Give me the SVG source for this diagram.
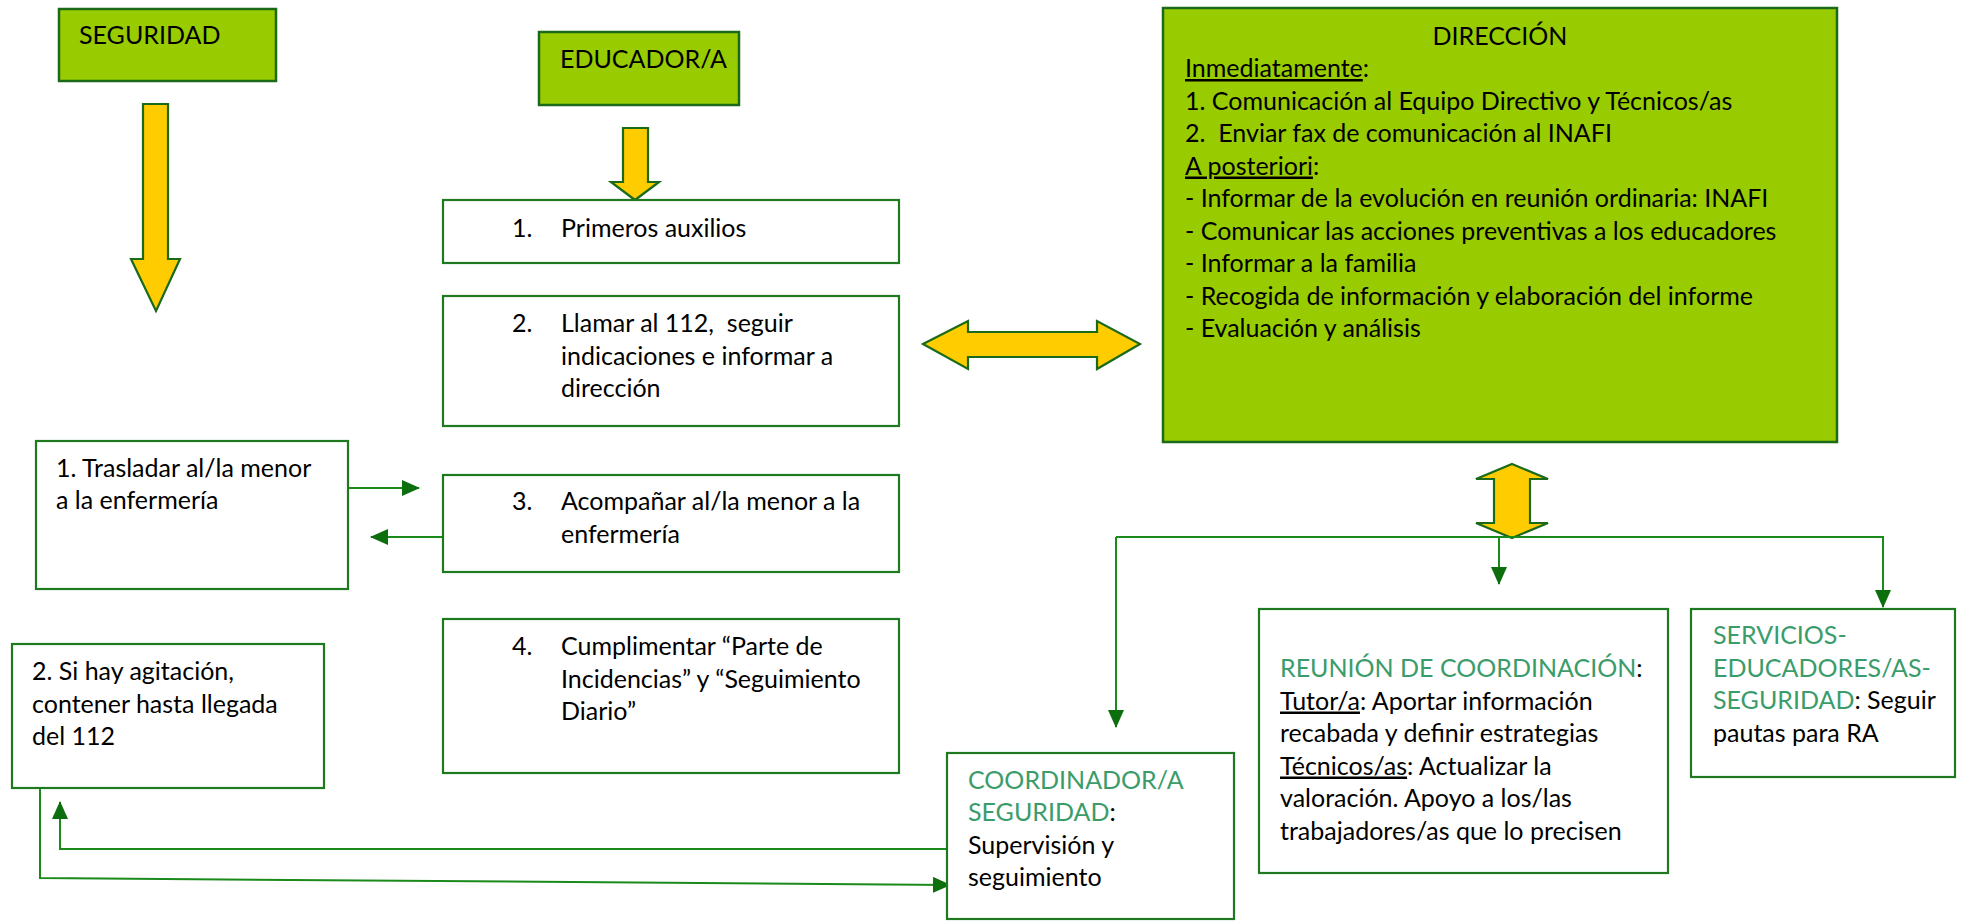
<svg xmlns="http://www.w3.org/2000/svg" width="1963" height="921" viewBox="0 0 1963 921">
<style>
  text { font-family: Lato, "Liberation Sans", sans-serif; font-size: 25px; fill: #000; white-space: pre; }
  .g { fill: #3b9c6b; }
  .u { text-decoration: underline; }
  .box { fill: #fff; stroke: #1f7a1f; stroke-width: 2.2; }
  .gbox { fill: #99cc00; stroke: #1a6a1a; stroke-width: 2.5; }
  .blk { fill: #ffcc00; stroke: #1a6a1a; stroke-width: 2.2; stroke-linejoin: miter; }
  .ln { fill: none; stroke: #1a8a1a; stroke-width: 2; }
</style>
<defs>
  <marker id="ah" markerUnits="userSpaceOnUse" markerWidth="18" markerHeight="16" refX="17" refY="8" orient="auto">
    <path d="M0,0 L18,8 L0,16 z" fill="#0d6e0d"/>
  </marker>
</defs>
<rect width="1963" height="921" fill="#fff"/>

<g id="connectors">
  <polygon class="blk" points="143,104 168,104 168,259 180,259 156,311 131,259 143,259"/>
  <polygon class="blk" points="623,128 648,128 648,182 659,182 635,200 611,182 623,182"/>
  <polygon class="blk" points="923,344 968,321 968,332 1097,332 1097,321 1140,344 1097,369 1097,357 968,357 968,369"/>
  <polygon class="blk" points="1512,464 1548,479 1530,479 1530,523 1548,523 1512,538 1476,523 1494,523 1494,479 1476,479"/>
  <path class="ln" d="M348,488 H419" marker-end="url(#ah)"/>
  <path class="ln" d="M443,537 H371" marker-end="url(#ah)"/>
  <path class="ln" d="M40,788 V878 L950,885" marker-end="url(#ah)"/>
  <path class="ln" d="M947,849 H60 V802" marker-end="url(#ah)"/>
  <path class="ln" d="M1116,537 H1883 V607" marker-end="url(#ah)"/>
  <path class="ln" d="M1116,537 V727" marker-end="url(#ah)"/>
  <path class="ln" d="M1499,537 V584" marker-end="url(#ah)"/>
</g>

<g id="seguridad">
  <rect class="gbox" x="59" y="9" width="217" height="72"/>
  <text x="79" y="44">SEGURIDAD</text>
</g>
<g id="educador">
  <rect class="gbox" x="539" y="32" width="200" height="73"/>
  <text x="560" y="68">EDUCADOR/A</text>
</g>
<g id="paso1">
  <rect class="box" x="443" y="200" width="456" height="63"/>
  <text x="512" y="237">1.</text>
  <text x="561" y="237">Primeros auxilios</text>
</g>
<g id="paso2">
  <rect class="box" x="443" y="296" width="456" height="130"/>
  <text x="512" y="332">2.</text>
  <text x="561" y="332">Llamar al 112,  seguir</text>
  <text x="561" y="364.5">indicaciones e informar a</text>
  <text x="561" y="397">dirección</text>
</g>
<g id="paso3">
  <rect class="box" x="443" y="475" width="456" height="97"/>
  <text x="512" y="510">3.</text>
  <text x="561" y="510">Acompañar al/la menor a la</text>
  <text x="561" y="543">enfermería</text>
</g>
<g id="paso4">
  <rect class="box" x="443" y="619" width="456" height="154"/>
  <text x="512" y="655">4.</text>
  <text x="561" y="655">Cumplimentar “Parte de</text>
  <text x="561" y="688">Incidencias” y “Seguimiento</text>
  <text x="561" y="720">Diario”</text>
</g>
<g id="trasladar">
  <rect class="box" x="36" y="441" width="312" height="148"/>
  <text x="56" y="477">1. Trasladar al/la menor</text>
  <text x="56" y="509">a la enfermería</text>
</g>
<g id="agitacion">
  <rect class="box" x="12" y="644" width="312" height="144"/>
  <text x="32" y="680">2. Si hay agitación,</text>
  <text x="32" y="712.5">contener hasta llegada</text>
  <text x="32" y="745">del 112</text>
</g>
<g id="direccion">
  <rect class="gbox" x="1163" y="8" width="674" height="434"/>
  <text x="1500" y="45" text-anchor="middle">DIRECCIÓN</text>
  <text x="1185" y="77"><tspan class="u">Inmediatamente</tspan>:</text>
  <text x="1185" y="109.5">1. Comunicación al Equipo Directivo y Técnicos/as</text>
  <text x="1185" y="142">2.  Enviar fax de comunicación al INAFI</text>
  <text x="1185" y="174.5"><tspan class="u">A posteriori</tspan>:</text>
  <text x="1185" y="207">- Informar de la evolución en reunión ordinaria: INAFI</text>
  <text x="1185" y="239.5">- Comunicar las acciones preventivas a los educadores</text>
  <text x="1185" y="272">- Informar a la familia</text>
  <text x="1185" y="304.5">- Recogida de información y elaboración del informe</text>
  <text x="1185" y="337">- Evaluación y análisis</text>
</g>
<g id="coordinador">
  <rect class="box" x="947" y="753" width="287" height="166"/>
  <text x="968" y="789" class="g">COORDINADOR/A</text>
  <text x="968" y="821"><tspan class="g">SEGURIDAD</tspan>:</text>
  <text x="968" y="853.5">Supervisión y</text>
  <text x="968" y="886">seguimiento</text>
</g>
<g id="reunion">
  <rect class="box" x="1259" y="609" width="409" height="264"/>
  <text x="1280" y="677"><tspan class="g">REUNIÓN DE COORDINACIÓN</tspan>:</text>
  <text x="1280" y="709.5"><tspan class="u">Tutor/a</tspan>: Aportar información</text>
  <text x="1280" y="742">recabada y definir estrategias</text>
  <text x="1280" y="774.5"><tspan class="u">Técnicos/as</tspan>: Actualizar la</text>
  <text x="1280" y="807">valoración. Apoyo a los/las</text>
  <text x="1280" y="839.5">trabajadores/as que lo precisen</text>
</g>
<g id="servicios">
  <rect class="box" x="1691" y="609" width="264" height="168"/>
  <text x="1713" y="644" class="g">SERVICIOS-</text>
  <text x="1713" y="676.5" class="g">EDUCADORES/AS-</text>
  <text x="1713" y="709"><tspan class="g">SEGURIDAD</tspan>: Seguir</text>
  <text x="1713" y="741.5">pautas para RA</text>
</g>
</svg>
